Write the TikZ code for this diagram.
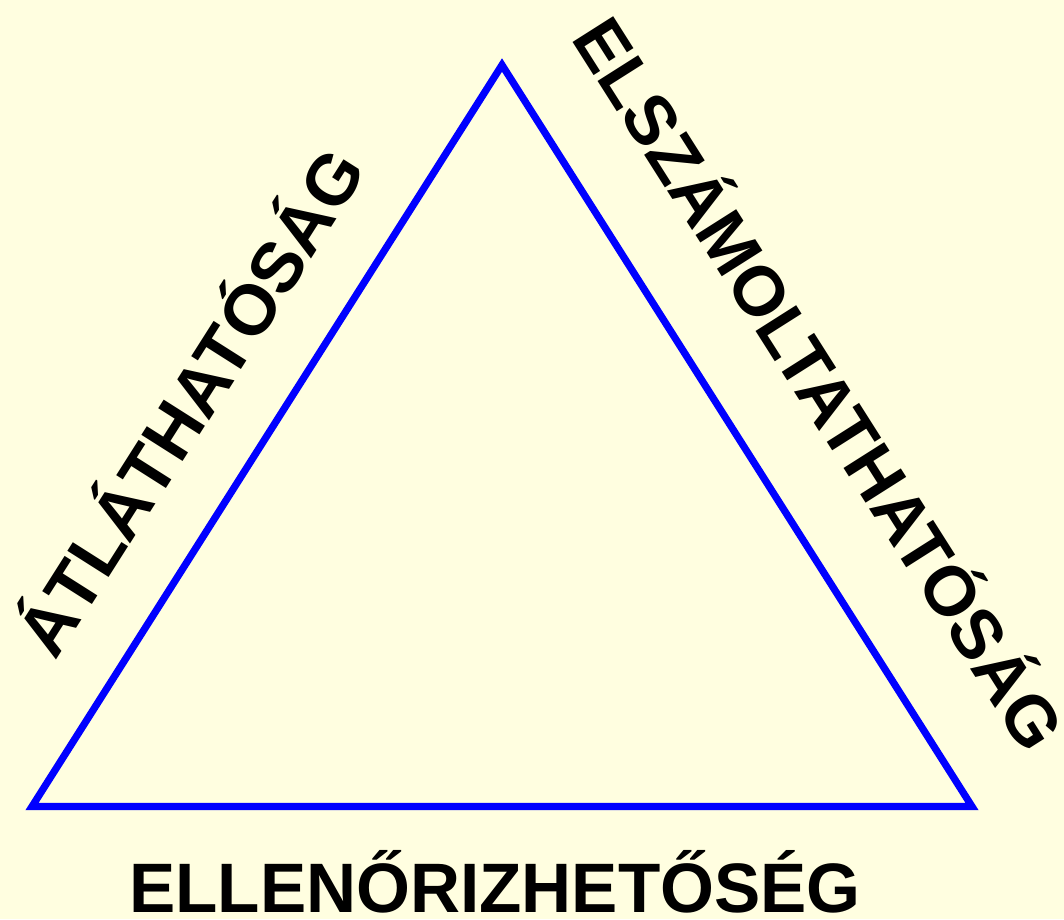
\documentclass[tikz,border=0pt]{standalone}
\usepackage{fontspec}
\setmainfont{Liberation Sans}
\definecolor{bgyellow}{RGB}{255,254,224}
\definecolor{triblue}{RGB}{0,0,255}
\tikzset{
  tri/.style={draw=triblue, line width=7.2pt, line join=miter},
  label/.style={inner sep=0pt, anchor=base, font=\bfseries\fontsize{72}{72}\selectfont},
}
\begin{document}
\begin{tikzpicture}[x=1pt,y=-1pt]
\fill[bgyellow] (0,0) rectangle (1064,919);
\useasboundingbox (0,0) rectangle (1064,919);
\coordinate (apex) at (502,65);
\coordinate (bl) at (32,806.5);
\coordinate (br) at (972,806.5);
\draw[tri] (apex) -- (br) -- (bl) -- cycle;
\node[label, rotate=57.6, font=\bfseries\fontsize{71}{71}\selectfont] (left) at (212,416) {ÁTLÁTHATÓSÁG};
\node[label, rotate=-57.6, font=\bfseries\fontsize{70}{70}\selectfont] (right) at (798,397) {ELSZÁMOLTATHATÓSÁG};
\node[label, font=\bfseries\fontsize{70}{70}\selectfont, xscale=0.99] (bottom) at (495,912) {ELLENŐRIZHETŐSÉG};
\end{tikzpicture}
\end{document}
